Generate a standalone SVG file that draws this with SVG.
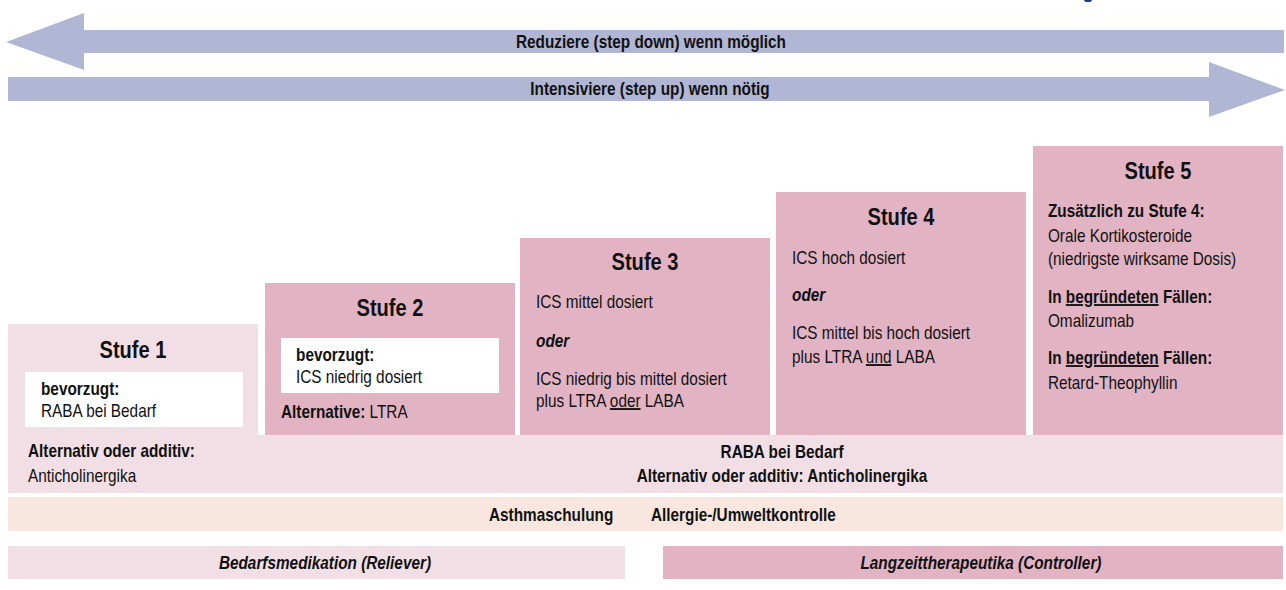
<svg xmlns="http://www.w3.org/2000/svg" width="1286" height="590" viewBox="0 0 1286 590">
  <style>
    text { font-family: "Liberation Sans", Arial, sans-serif; fill: #111; font-size: 18.7px; }
    .b { font-weight: bold; }
    .bi { font-weight: bold; font-style: italic; }
    .h { font-weight: bold; font-size: 24.5px; text-anchor: middle; }
    .c { text-anchor: middle; }
    .u { text-decoration: underline; }
    .arrow { fill: #b2b6d5; }
    .light { fill: #f2dfe5; }
    .dark { fill: #e2b4c3; }
    .peach { fill: #f8e6df; }
    .white { fill: #ffffff; }
  </style>

  <!-- condensed lettering: text groups are squeezed to 82 % width, so their x values are divided by 0.82 -->

  <!-- descender of the heading line above the frame -->
  <ellipse cx="1088" cy="0" rx="4" ry="2" fill="#1f3c88"/>

  <!-- direction arrows -->
  <g id="connectors">
    <g id="step-down">
      <polygon class="arrow" points="6,42 84,13 84,30 1284,30 1284,53 84,53 84,70"/>
      <g transform="scale(0.82 1)">
        <text class="b c" x="793.9" y="48">Reduziere (step down) wenn möglich</text>
      </g>
    </g>
    <g id="step-up">
      <polygon class="arrow" points="8,77 1209,77 1209,62 1285,90 1209,117 1209,101 8,101"/>
      <g transform="scale(0.82 1)">
        <text class="b c" x="792.7" y="95">Intensiviere (step up) wenn nötig</text>
      </g>
    </g>
  </g>

  <!-- shared reliever band with step 1 -->
  <g id="reliever-band">
    <rect class="light" x="8" y="324" width="250" height="169"/>
    <rect class="light" x="8" y="435" width="1275" height="58"/>
    <g transform="scale(0.82 1)">
      <text class="b" x="34.15" y="457">Alternativ oder additiv:</text>
      <text x="34.15" y="482">Anticholinergika</text>
      <text class="b c" x="953.7" y="458">RABA bei Bedarf</text>
      <text class="b c" x="953.7" y="482">Alternativ oder additiv: Anticholinergika</text>
    </g>
  </g>

  <g id="stufe-1">
    <rect class="white" x="25" y="372" width="218" height="55"/>
    <g transform="scale(0.82 1)">
      <text class="h" x="162.2" y="358">Stufe 1</text>
      <text class="b" x="50" y="395">bevorzugt:</text>
      <text x="50" y="417">RABA bei Bedarf</text>
    </g>
  </g>

  <g id="stufe-2">
    <rect class="dark" x="265" y="283" width="250" height="152"/>
    <rect class="white" x="281" y="338" width="218" height="55"/>
    <g transform="scale(0.82 1)">
      <text class="h" x="475.6" y="316">Stufe 2</text>
      <text class="b" x="361" y="361">bevorzugt:</text>
      <text x="361" y="383">ICS niedrig dosiert</text>
      <text x="342.7" y="418"><tspan class="b">Alternative:</tspan> LTRA</text>
    </g>
  </g>

  <g id="stufe-3">
    <rect class="dark" x="520" y="238" width="250" height="197"/>
    <g transform="scale(0.82 1)">
      <text class="h" x="786.6" y="270">Stufe 3</text>
      <text x="653.7" y="308">ICS mittel dosiert</text>
      <text class="bi" x="653.7" y="347">oder</text>
      <text x="653.7" y="385">ICS niedrig bis mittel dosiert</text>
      <text x="653.7" y="407">plus LTRA <tspan class="u">oder</tspan> LABA</text>
    </g>
  </g>

  <g id="stufe-4">
    <rect class="dark" x="776" y="192" width="250" height="243"/>
    <g transform="scale(0.82 1)">
      <text class="h" x="1098.8" y="225">Stufe 4</text>
      <text x="965.9" y="264">ICS hoch dosiert</text>
      <text class="bi" x="965.9" y="301">oder</text>
      <text x="965.9" y="339">ICS mittel bis hoch dosiert</text>
      <text x="965.9" y="363">plus LTRA <tspan class="u">und</tspan> LABA</text>
    </g>
  </g>

  <g id="stufe-5">
    <rect class="dark" x="1033" y="146" width="250" height="289"/>
    <g transform="scale(0.82 1)">
      <text class="h" x="1412.2" y="179">Stufe 5</text>
      <text class="b" x="1278" y="217">Zusätzlich zu Stufe 4:</text>
      <text x="1278" y="242">Orale Kortikosteroide</text>
      <text x="1278" y="265">(niedrigste wirksame Dosis)</text>
      <text class="b" x="1278" y="303">In <tspan class="u">begründeten</tspan> Fällen:</text>
      <text x="1278" y="327">Omalizumab</text>
      <text class="b" x="1278" y="364">In <tspan class="u">begründeten</tspan> Fällen:</text>
      <text x="1278" y="389">Retard-Theophyllin</text>
    </g>
  </g>

  <g id="basis">
    <rect class="peach" x="8" y="497" width="1275" height="34"/>
    <g transform="scale(0.82 1)">
      <text class="b" x="596.3" y="521">Asthmaschulung</text>
      <text class="b" x="793.9" y="521">Allergie-/Umweltkontrolle</text>
    </g>
  </g>

  <g id="legend-reliever">
    <rect class="light" x="8" y="546" width="617" height="33"/>
    <g transform="scale(0.82 1)">
      <text class="bi c" x="396.3" y="569">Bedarfsmedikation (Reliever)</text>
    </g>
  </g>

  <g id="legend-controller">
    <rect class="dark" x="663" y="546" width="620" height="33"/>
    <g transform="scale(0.82 1)">
      <text class="bi c" x="1196.3" y="569">Langzeittherapeutika (Controller)</text>
    </g>
  </g>
</svg>
